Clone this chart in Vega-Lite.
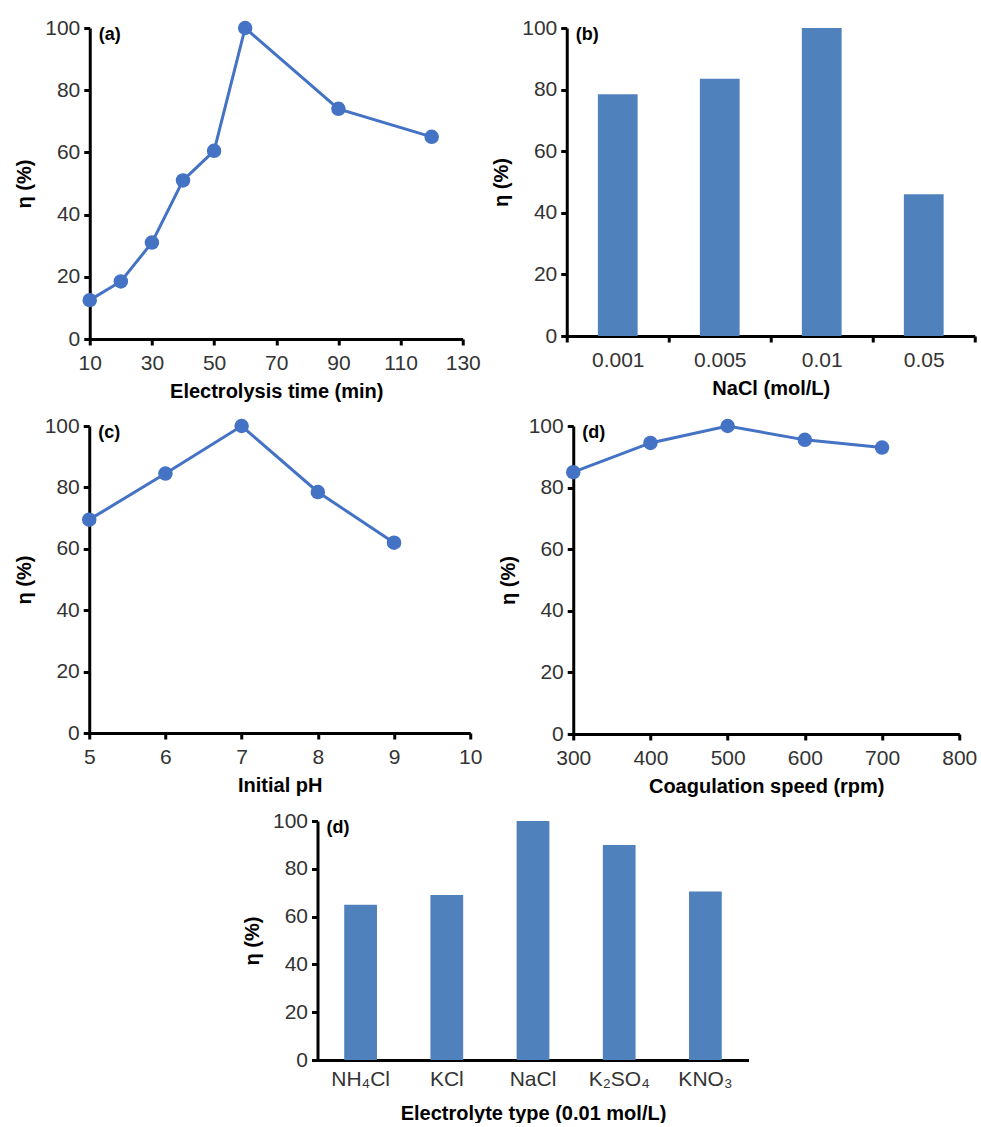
{
  "$schema": "https://vega.github.io/schema/vega-lite/v6.json",
  "background": "white",
  "padding": {"top": 17, "left": 14, "right": 0, "bottom": 0},
  "center": true,
  "spacing": 14,
  "config": {
    "font": "Liberation Sans",
    "view": {"stroke": null},
    "axis": {
      "grid": false,
      "domainColor": "black",
      "domainWidth": 3,
      "tickColor": "black",
      "tickWidth": 3,
      "tickSize": 6,
      "labelFontSize": 21,
      "labelColor": "#333333",
      "labelPadding": 4,
      "titleFontSize": 20,
      "titleFontWeight": "bold",
      "titleColor": "black",
      "labelFlush": false,
      "labelOverlap": false
    },
    "axisX": {"labelPadding": 7, "titlePadding": 8},
    "title": {"fontSize": 18, "fontWeight": "bold", "color": "black", "anchor": "start", "frame": "group", "offset": -27, "dx": 9}
  },
  "datasets": {
    "time": [
      {"t": 10, "eta": 12.5}, {"t": 20, "eta": 18.5}, {"t": 30, "eta": 31}, {"t": 40, "eta": 51},
      {"t": 50, "eta": 60.5}, {"t": 60, "eta": 100}, {"t": 90, "eta": 74}, {"t": 120, "eta": 65}
    ],
    "nacl": [
      {"c": "0.001", "eta": 78.5}, {"c": "0.005", "eta": 83.5}, {"c": "0.01", "eta": 100}, {"c": "0.05", "eta": 46}
    ],
    "ph": [
      {"ph": 5, "eta": 69.5}, {"ph": 6, "eta": 84.5}, {"ph": 7, "eta": 100}, {"ph": 8, "eta": 78.5}, {"ph": 9, "eta": 62}
    ],
    "speed": [
      {"s": 300, "eta": 85}, {"s": 400, "eta": 94.5}, {"s": 500, "eta": 100}, {"s": 600, "eta": 95.5}, {"s": 700, "eta": 93}
    ],
    "elec": [
      {"e": "NH₄Cl", "eta": 65}, {"e": "KCl", "eta": 69}, {"e": "NaCl", "eta": 100}, {"e": "K₂SO₄", "eta": 90}, {"e": "KNO₃", "eta": 70.5}
    ]
  },
  "vconcat": [
    {
      "hconcat": [
        {
          "title": "(a)",
          "width": 373, "height": 311,
          "data": {"name": "time"},
          "mark": {"type": "line", "color": "#4472C4", "strokeWidth": 3, "point": {"filled": true, "size": 210, "color": "#4472C4"}},
          "encoding": {
            "x": {"field": "t", "type": "quantitative", "scale": {"domain": [10, 130], "nice": false}, "axis": {"values": [10, 30, 50, 70, 90, 110, 130], "title": "Electrolysis time (min)"}},
            "y": {"field": "eta", "type": "quantitative", "scale": {"domain": [0, 100], "nice": false}, "axis": {"values": [0, 20, 40, 60, 80, 100], "title": "η (%)", "titlePadding": 10}}
          }
        },
        {
          "title": "(b)",
          "width": 408, "height": 308,
          "data": {"name": "nacl"},
          "mark": {"type": "bar", "color": "#4F81BD", "width": {"band": 0.39}},
          "encoding": {
            "x": {"field": "c", "type": "ordinal", "sort": null, "scale": {"paddingInner": 0, "paddingOuter": 0}, "axis": {"labelAngle": 0, "tickBand": "extent", "title": "NaCl (mol/L)"}},
            "y": {"field": "eta", "type": "quantitative", "scale": {"domain": [0, 100], "nice": false}, "axis": {"values": [0, 20, 40, 60, 80, 100], "title": "η (%)", "titlePadding": 10}}
          }
        }
      ],
      "spacing": 10
    },
    {
      "hconcat": [
        {
          "title": "(c)",
          "width": 381, "height": 307,
          "data": {"name": "ph"},
          "mark": {"type": "line", "color": "#4472C4", "strokeWidth": 3, "point": {"filled": true, "size": 210, "color": "#4472C4"}},
          "encoding": {
            "x": {"field": "ph", "type": "quantitative", "scale": {"domain": [5, 10], "nice": false}, "axis": {"values": [5, 6, 7, 8, 9, 10], "title": "Initial pH"}},
            "y": {"field": "eta", "type": "quantitative", "scale": {"domain": [0, 100], "nice": false}, "axis": {"values": [0, 20, 40, 60, 80, 100], "title": "η (%)", "titlePadding": 10}}
          }
        },
        {
          "title": "(d)",
          "width": 386, "height": 308,
          "data": {"name": "speed"},
          "mark": {"type": "line", "color": "#4472C4", "strokeWidth": 3, "point": {"filled": true, "size": 210, "color": "#4472C4"}},
          "encoding": {
            "x": {"field": "s", "type": "quantitative", "scale": {"domain": [300, 800], "nice": false}, "axis": {"values": [300, 400, 500, 600, 700, 800], "title": "Coagulation speed (rpm)"}},
            "y": {"field": "eta", "type": "quantitative", "scale": {"domain": [0, 100], "nice": false}, "axis": {"values": [0, 20, 40, 60, 80, 100], "title": "η (%)", "titlePadding": 10}}
          }
        }
      ],
      "spacing": 15
    },
    {
      "title": "(d)",
      "width": 431, "height": 239,
      "data": {"name": "elec"},
      "mark": {"type": "bar", "color": "#4F81BD", "width": {"band": 0.38}},
      "encoding": {
        "x": {"field": "e", "type": "ordinal", "sort": null, "scale": {"paddingInner": 0, "paddingOuter": 0}, "axis": {"labelAngle": 0, "ticks": false, "labelPadding": 8, "title": "Electrolyte type (0.01 mol/L)", "titlePadding": 14}},
        "y": {"field": "eta", "type": "quantitative", "scale": {"domain": [0, 100], "nice": false}, "axis": {"values": [0, 20, 40, 60, 80, 100], "title": "η (%)", "titlePadding": 10}}
      }
    }
  ]
}
